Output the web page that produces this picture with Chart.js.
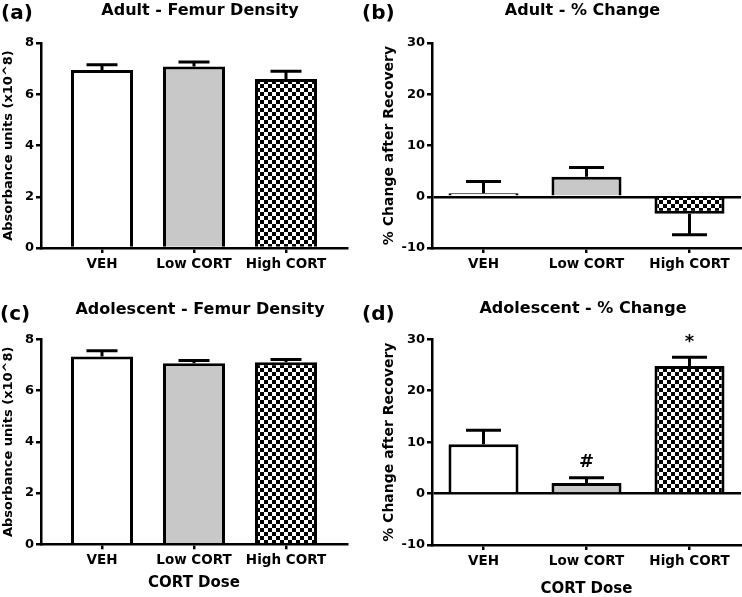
<!DOCTYPE html>
<html>
<head>
<meta charset="utf-8">
<script src="https://cdn.jsdelivr.net/npm/chart.js@4/dist/chart.umd.min.js"></script>
<style>
  html, body { margin: 0; padding: 0; background: #fff; }
  body { width: 742px; height: 597px; position: relative; overflow: hidden; }
  .panel { position: absolute; }
</style>
</head>
<body>
<div class="panel" id="pa" style="left:0px;top:0px;width:371px;height:300px;"><canvas id="ca"></canvas></div>
<div class="panel" id="pb" style="left:355px;top:0px;width:387px;height:300px;"><canvas id="cb"></canvas></div>
<div class="panel" id="pc" style="left:0px;top:300px;width:371px;height:297px;"><canvas id="cc"></canvas></div>
<div class="panel" id="pd" style="left:355px;top:300px;width:387px;height:297px;"><canvas id="cd"></canvas></div>
<script>
// ---------- data ----------
const categories = ['VEH', 'Low CORT', 'High CORT'];

const adultDensity      = [6.95, 7.08, 6.60];
const adultDensityErr   = [0.20, 0.18, 0.30];

const adultChange       = [0.7, 3.9, -3.3];
const adultChangeErr    = [2.3, 1.8, 4.1];

const adolDensity       = [7.33, 7.07, 7.10];
const adolDensityErr    = [0.22, 0.10, 0.11];

const adolChange        = [9.6, 2.07, 24.8];
const adolChangeErr     = [2.7, 1.0, 1.7];
const adolChangeMarks   = ['', '#', '*'];

const densityTicks = [0, 2, 4, 6, 8];
const changeTicks  = [-10, 0, 10, 20, 30];

// ---------- style ----------
Chart.defaults.font.family = "'DejaVu Sans', 'Liberation Sans', sans-serif";
Chart.defaults.font.weight = 'bold';
Chart.defaults.color = '#000';
Chart.defaults.animation = false;

function checker() {
  const c = document.createElement('canvas');
  c.width = 8; c.height = 8;
  const g = c.getContext('2d');
  g.fillStyle = '#fff'; g.fillRect(0, 0, 8, 8);
  g.fillStyle = '#000'; g.fillRect(0, 0, 4, 4); g.fillRect(4, 4, 4, 4);
  return g.createPattern(c, 'repeat');
}
const pattern = checker();
const fills = ['#ffffff', '#c8c8c8', pattern];

const errorBars = {
  id: 'errorBars',
  afterDatasetsDraw(chart, args, opts) {
    const ctx = chart.ctx;
    const ys = chart.scales.y;
    const meta = chart.getDatasetMeta(0);
    const vals = chart.data.datasets[0].data;
    ctx.save();
    ctx.strokeStyle = '#000';
    ctx.lineWidth = 3;
    meta.data.forEach((bar, i) => {
      const p = bar.getProps(['x', 'y', 'width'], true);
      const v = vals[i].y;
      const e = opts.errors[i];
      const end = ys.getPixelForValue(v >= 0 ? v + e : v - e);
      const half = p.width / 4;
      ctx.beginPath();
      ctx.moveTo(p.x, p.y);
      ctx.lineTo(p.x, end);
      ctx.moveTo(p.x - half, end);
      ctx.lineTo(p.x + half, end);
      ctx.stroke();
      if (opts.marks && opts.marks[i]) {
        ctx.fillStyle = '#000';
        ctx.font = "bold 18px 'DejaVu Sans'";
        ctx.textAlign = 'center';
        ctx.textBaseline = 'middle';
        ctx.fillText(opts.marks[i], p.x, end - 15);
      }
    });
    ctx.restore();
  }
};

const panelText = {
  id: 'panelText',
  afterDraw(chart, args, opts) {
    const ctx = chart.ctx;
    ctx.save();
    ctx.fillStyle = '#000';
    ctx.textBaseline = 'alphabetic';
    ctx.font = "bold 20px 'DejaVu Sans'";
    ctx.textAlign = 'left';
    ctx.fillText(opts.label, opts.labelX, opts.labelY);
    ctx.font = "bold 16px 'DejaVu Sans'";
    ctx.textAlign = 'center';
    ctx.fillText(opts.title, opts.titleX, opts.titleY);
    ctx.restore();
  }
};

function makeChart(id, cfg) {
  const points = cfg.values.map((v, i) => ({ x: i + 1, y: v }));
  const zeroLine = cfg.zeroLine;
  return new Chart(document.getElementById(id), {
    type: 'bar',
    data: {
      datasets: [{
        data: points,
        backgroundColor: fills,
        borderColor: '#000',
        borderWidth: 3,
        barPercentage: 1,
        categoryPercentage: cfg.barFrac
      }]
    },
    plugins: [errorBars, panelText],
    options: {
      responsive: true,
      maintainAspectRatio: false,
      layout: { padding: cfg.padding },
      plugins: {
        legend: { display: false },
        tooltip: { enabled: false },
        errorBars: { errors: cfg.errors, marks: cfg.marks || null },
        panelText: cfg.text
      },
      scales: {
        x: {
          type: 'linear',
          offset: false,
          min: cfg.xMin, max: cfg.xMax,
          afterBuildTicks: (s) => { s.ticks = categories.map((c, i) => ({ value: i + 1 })); },
          afterFit: (s) => { s.height = cfg.xHeight; },
          ticks: {
            autoSkip: false, maxRotation: 0, padding: 3,
            font: { size: 13.5, weight: 'bold' },
            callback: (v) => categories[v - 1]
          },
          grid: { display: true, offset: false, drawOnChartArea: false, drawTicks: true, tickLength: 5, color: '#000', lineWidth: 2.5 },
          border: { display: true, color: '#000', width: 2.5 },
          title: cfg.xTitle ? { display: true, text: 'CORT Dose', font: { size: 15, weight: 'bold', lineHeight: 1 }, padding: { top: 0, bottom: cfg.xTitlePad } } : { display: false }
        },
        y: {
          min: cfg.yTicks[0], max: cfg.yTicks[cfg.yTicks.length - 1],
          afterBuildTicks: (s) => { s.ticks = cfg.yTicks.map(v => ({ value: v })); },
          afterFit: (s) => { s.width = cfg.yWidth; },
          ticks: { padding: 2, font: { size: 13, weight: 'bold' } },
          grid: {
            display: true,
            drawOnChartArea: !!zeroLine,
            drawTicks: true,
            tickLength: 5,
            color: (c) => (zeroLine && c.tick && c.tick.value === 0) ? '#000' : 'rgba(0,0,0,0)',
            tickColor: '#000',
            lineWidth: 2.5
          },
          border: { display: true, color: '#000', width: 2.5 },
          title: { display: true, text: cfg.yTitle, font: { size: cfg.yTitleSize, weight: 'bold', lineHeight: 1.2 }, padding: { top: 1, bottom: 0 } }
        }
      }
    }
  });
}

// (a) Adult - Femur Density
makeChart('ca', {
  values: adultDensity, errors: adultDensityErr,
  barFrac: 0.674, xMin: 0.337, xMax: 3.663,
  padding: { left: 0, top: 43, right: 24, bottom: 0 },
  yWidth: 41, xHeight: 52, yTicks: densityTicks,
  yTitle: 'Absorbance units (x10^8)', yTitleSize: 13,
  text: { label: '(a)', labelX: 1, labelY: 19, title: 'Adult - Femur Density', titleX: 200, titleY: 15 }
});

// (b) Adult - % Change
makeChart('cb', {
  values: adultChange, errors: adultChangeErr,
  barFrac: 0.68, xMin: 0.5, xMax: 3.5, zeroLine: true,
  padding: { left: 25, top: 43, right: 1, bottom: 0 },
  yWidth: 52, xHeight: 52, yTicks: changeTicks,
  yTitle: '% Change after Recovery', yTitleSize: 14,
  text: { label: '(b)', labelX: 7, labelY: 19, title: 'Adult - % Change', titleX: 227.5, titleY: 15 }
});

// (c) Adolescent - Femur Density
makeChart('cc', {
  values: adolDensity, errors: adolDensityErr,
  barFrac: 0.674, xMin: 0.337, xMax: 3.663,
  padding: { left: 0, top: 39.3, right: 24, bottom: 0 },
  yWidth: 41, xHeight: 52.7, yTicks: densityTicks,
  yTitle: 'Absorbance units (x10^8)', yTitleSize: 13,
  xTitle: true, xTitlePad: 6.5,
  text: { label: '(c)', labelX: 0, labelY: 20, title: 'Adolescent - Femur Density', titleX: 200, titleY: 14 }
});

// (d) Adolescent - % Change
makeChart('cd', {
  values: adolChange, errors: adolChangeErr, marks: adolChangeMarks,
  barFrac: 0.68, xMin: 0.5, xMax: 3.5, zeroLine: true,
  padding: { left: 25, top: 39.3, right: 1, bottom: 0 },
  yWidth: 52, xHeight: 52, yTicks: changeTicks,
  yTitle: '% Change after Recovery', yTitleSize: 14,
  xTitle: true, xTitlePad: 0,
  text: { label: '(d)', labelX: 7, labelY: 20, title: 'Adolescent - % Change', titleX: 228, titleY: 13 }
});
</script>
</body>
</html>
